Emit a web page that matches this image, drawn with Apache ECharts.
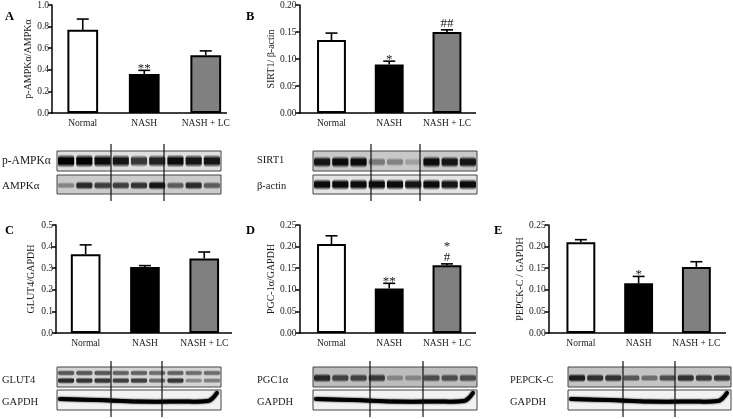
<!DOCTYPE html>
<html>
<head>
<meta charset="utf-8">
<style>
html, body { margin: 0; padding: 0; background: #fff; }
#chart { width: 733px; height: 419px; filter: blur(0.35px); }
</style>
<script src="https://cdn.jsdelivr.net/npm/echarts@6/dist/echarts.min.js"></script>
</head>
<body>
<div id="chart"></div>
<script>
var categories = ["Normal", "NASH", "NASH + LC"];

var valuesA = [0.77, 0.36, 0.535];
var errorTopA = [0.87, 0.395, 0.575];
var marksA = ["", "**", ""];
var valuesB = [0.135, 0.09, 0.15];
var errorTopB = [0.148, 0.096, 0.154];
var marksB = ["", "*", "##"];
var valuesC = [0.365, 0.305, 0.345];
var errorTopC = [0.408, 0.312, 0.375];
var marksC = ["", "", ""];
var valuesD = [0.206, 0.103, 0.157];
var errorTopD = [0.225, 0.115, 0.16];
var marksD = ["", "**", "*\n#"];
var valuesE = [0.21, 0.115, 0.153];
var errorTopE = [0.216, 0.131, 0.165];
var marksE = ["", "*", ""];

// band darkness per lane, read from the blots
var bandsPAmpk = [1, 1, 0.95, 0.9, 0.75, 0.85, 0.95, 0.9, 0.9];
var bandsAmpk = [0.35, 0.8, 0.7, 0.7, 0.75, 0.9, 0.55, 0.8, 0.55];
var bandsSirt1 = [0.9, 0.95, 0.95, 0.4, 0.35, 0.2, 0.95, 0.9, 0.9];
var bandsActin = [0.95, 0.95, 0.95, 0.95, 0.95, 0.9, 0.95, 0.9, 0.95];
var bandsGlut4Upper = [0.6, 0.6, 0.6, 0.55, 0.55, 0.5, 0.55, 0.5, 0.5];
var bandsGlut4Lower = [0.8, 0.75, 0.75, 0.7, 0.7, 0.5, 0.75, 0.35, 0.4];
var bandsPgc1 = [0.8, 0.65, 0.65, 0.7, 0.3, 0.3, 0.6, 0.6, 0.6];
var bandsPepck = [0.85, 0.75, 0.75, 0.55, 0.45, 0.6, 0.75, 0.7, 0.7];

var serif = '"Liberation Serif", "Times New Roman", serif';
var ink = "#1a1a1a";

var panels = [
    { letter: "A", lx: 5, ly: 17, name: "p-AMPK\u03B1/AMPK\u03B1", values: valuesA, tops: errorTopA, marks: marksA, max: 1, step: 0.2, digits: 1,
      axisX: 52, left: 52, band: 61.5, end: 227, top: 5, bottom: 113, nameGap: 18 },
    { letter: "B", lx: 246, ly: 17, name: "SIRT1/ \u03B2-actin", values: valuesB, tops: errorTopB, marks: marksB, max: 0.2, step: 0.05, digits: 2,
      axisX: 299.5, left: 302.6, band: 57.75, end: 476, top: 5, bottom: 113, nameGap: 22 },
    { letter: "C", lx: 5, ly: 231, name: "GLUT4/GAPDH", values: valuesC, tops: errorTopC, marks: marksC, max: 0.5, step: 0.1, digits: 1,
      axisX: 56, left: 56, band: 59.3, end: 232, top: 225, bottom: 333, nameGap: 20 },
    { letter: "D", lx: 246, ly: 231, name: "PGC-1\u03B1/GAPDH", values: valuesD, tops: errorTopD, marks: marksD, max: 0.25, step: 0.05, digits: 2,
      axisX: 299.5, left: 302.6, band: 57.75, end: 476, top: 225, bottom: 333, nameGap: 22 },
    { letter: "E", lx: 494, ly: 231, name: "PEPCK-C / GAPDH", values: valuesE, tops: errorTopE, marks: marksE, max: 0.25, step: 0.05, digits: 2,
      axisX: 548.7, left: 552, band: 57.75, end: 726, top: 225, bottom: 333, nameGap: 22 }
];

var grids = [], xAxes = [], yAxes = [], series = [], graphics = [];

function renderError(params, api) {
    var i = api.value(0);
    var tip = api.coord([i, api.value(1)]);
    var base = api.coord([i, api.value(2)]);
    return {
        type: "group",
        children: [
            { type: "line", shape: { x1: tip[0], y1: tip[1], x2: base[0], y2: base[1] }, style: { stroke: "#000", lineWidth: 1.6 } },
            { type: "line", shape: { x1: tip[0] - 6, y1: tip[1], x2: tip[0] + 6, y2: tip[1] }, style: { stroke: "#000", lineWidth: 1.6 } }
        ]
    };
}

function renderMark(marks) {
    return function (params, api) {
        var i = api.value(0);
        var tip = api.coord([i, api.value(1)]);
        if (!marks[i]) return null;
        return {
            type: "text",
            x: tip[0],
            y: tip[1] + (marks[i].indexOf("#") >= 0 ? -1 : 4),
            style: { text: marks[i], font: "13px " + serif, fill: ink, align: "center", verticalAlign: "bottom", lineHeight: 11 }
        };
    };
}

panels.forEach(function (p, k) {
    grids.push({ left: p.left, top: p.top, width: p.band * 3, height: p.bottom - p.top });
    xAxes.push({
        gridIndex: k,
        type: "category",
        data: categories,
        axisLine: { show: false },
        axisTick: { show: false },
        axisLabel: { color: ink, fontFamily: serif, fontSize: 9.5, margin: 5, interval: 0 }
    });
    yAxes.push({
        gridIndex: k,
        type: "value",
        min: 0,
        max: p.max,
        interval: p.step,
        offset: p.left - p.axisX,
        name: p.name,
        nameLocation: "middle",
        nameGap: p.nameGap,
        nameTextStyle: { color: ink, fontFamily: serif, fontSize: 10 },
        axisLine: { show: true, onZero: false, lineStyle: { color: "#000", width: 1.5 } },
        axisTick: { show: true, length: 4, lineStyle: { color: "#000", width: 1.5 } },
        axisLabel: { color: ink, fontFamily: serif, fontSize: 9.5, margin: 3, formatter: function (v) { return v.toFixed(p.digits); } },
        splitLine: { show: false }
    });
    series.push({
        type: "bar",
        xAxisIndex: k,
        yAxisIndex: k,
        barWidth: "50%",
        data: p.values.map(function (v, i) {
            return { value: v, itemStyle: { color: ["#fff", "#000", "#808080"][i], borderColor: "#000", borderWidth: 2 } };
        }),
        silent: true,
        animation: false
    });
    series.push({
        type: "custom",
        xAxisIndex: k,
        yAxisIndex: k,
        renderItem: renderError,
        data: p.tops.map(function (t, i) { return [i, t, p.values[i]]; }),
        silent: true,
        animation: false,
        z: 1
    });
    series.push({
        type: "custom",
        xAxisIndex: k,
        yAxisIndex: k,
        renderItem: renderMark(p.marks),
        data: p.tops.map(function (t, i) { return [i, t]; }),
        silent: true,
        animation: false,
        z: 3
    });
    graphics.push({ type: "line", shape: { x1: p.axisX - 1, y1: p.bottom, x2: p.end, y2: p.bottom }, style: { stroke: "#000", lineWidth: 1.5 }, silent: true });
    graphics.push({ type: "text", x: p.lx, y: p.ly, style: { text: p.letter, font: "bold 12.5px " + serif, fill: "#000", verticalAlign: "middle" } });
});

function addLabel(text, x, y, size) {
    graphics.push({ type: "text", x: x, y: y, style: { text: text, font: (size || 10.5) + "px " + serif, fill: ink, verticalAlign: "middle" } });
}

function addBox(x, y, w, h, bg) {
    graphics.push({ type: "rect", shape: { x: x, y: y, width: w, height: h }, style: { fill: bg, stroke: "#444", lineWidth: 1 }, silent: true });
}

// soft-edged band: vertical fade inside a rounded rect
function addBands(x, y, w, h, lanes, rowY, thick) {
    var laneW = w / 9;
    lanes.forEach(function (d, i) {
        var half = 1.7 * thick * (0.55 + 0.45 * d);
        graphics.push({
            type: "rect",
            shape: { x: x + laneW * i + 1, y: y + h * rowY - half, width: laneW - 2, height: half * 2, r: 4 },
            style: {
                fill: {
                    type: "linear", x: 0, y: 0, x2: 0, y2: 1,
                    colorStops: [
                        { offset: 0, color: "rgba(0,0,0,0)" },
                        { offset: 0.3, color: "rgba(0,0,0," + d + ")" },
                        { offset: 0.7, color: "rgba(0,0,0," + d + ")" },
                        { offset: 1, color: "rgba(0,0,0,0)" }
                    ]
                }
            },
            silent: true
        });
    });
}

function addSmear(x, y, w, h) {
    var mid = y + h * 0.5;
    graphics.push({
        type: "polyline",
        shape: {
            points: [[x + 3, mid - 1], [x + w * 0.25, mid], [x + w * 0.5, mid + 1.5], [x + w * 0.75, mid + 1.5], [x + w * 0.92, mid + 1], [x + w * 0.95, mid - 2], [x + w * 0.975, mid - 7]],
            smooth: 0.4
        },
        style: { fill: null, stroke: "#000", lineWidth: 4, lineCap: "round", shadowBlur: 2, shadowColor: "#000" },
        silent: true
    });
}

function addDividers(x1, x2, y1, y2) {
    [x1, x2].forEach(function (x) {
        graphics.push({ type: "line", shape: { x1: x, y1: y1, x2: x, y2: y2 }, style: { stroke: "#111", lineWidth: 1.2 }, silent: true, z: 10 });
    });
}

// panel A blots
addBox(57, 151, 164, 20, "#e0e0e0");
addBands(57, 151, 164, 20, bandsPAmpk, 0.5, 4);
addBox(57, 175, 164, 19, "#cbcbcb");
addBands(57, 175, 164, 19, bandsAmpk, 0.55, 2.8);
addDividers(111, 164, 144, 201);
addLabel("p-AMPK\u03B1", 2, 161, 11.5);
addLabel("AMPK\u03B1", 2, 186, 11);

// panel B blots
addBox(313, 151, 164, 20, "#c8c8c8");
addBands(313, 151, 164, 20, bandsSirt1, 0.55, 3.6);
addBox(313, 175, 164, 19, "#e4e4e4");
addBands(313, 175, 164, 19, bandsActin, 0.5, 3.4);
addDividers(371, 420, 144, 201);
addLabel("SIRT1", 257, 160);
addLabel("\u03B2-actin", 257, 186);

// panel C blots
addBox(57, 367, 164, 20, "#d4d4d4");
addBands(57, 367, 164, 20, bandsGlut4Upper, 0.3, 2.2);
addBands(57, 367, 164, 20, bandsGlut4Lower, 0.68, 2.2);
addBox(57, 390, 164, 20, "#f2f2f2");
addSmear(57, 390, 164, 20);
addDividers(111, 162, 361, 417);
addLabel("GLUT4", 2, 380);
addLabel("GAPDH", 2, 402);

// panel D blots
addBox(313, 367, 164, 20, "#bdbdbd");
addBands(313, 367, 164, 20, bandsPgc1, 0.55, 3);
addBox(313, 390, 164, 20, "#f2f2f2");
addSmear(313, 390, 164, 20);
addDividers(370, 423, 361, 417);
addLabel("PGC1\u03B1", 257, 380);
addLabel("GAPDH", 257, 402);

// panel E blots
addBox(568, 367, 163, 20, "#c4c4c4");
addBands(568, 367, 163, 20, bandsPepck, 0.55, 2.8);
addBox(568, 390, 163, 20, "#f2f2f2");
addSmear(568, 390, 163, 20);
addDividers(623, 675, 361, 417);
addLabel("PEPCK-C", 510, 380);
addLabel("GAPDH", 510, 402);

var myChart = echarts.init(document.getElementById("chart"));
myChart.setOption({
    animation: false,
    backgroundColor: "#fff",
    grid: grids,
    xAxis: xAxes,
    yAxis: yAxes,
    series: series,
    graphic: graphics
});
</script>
</body>
</html>
